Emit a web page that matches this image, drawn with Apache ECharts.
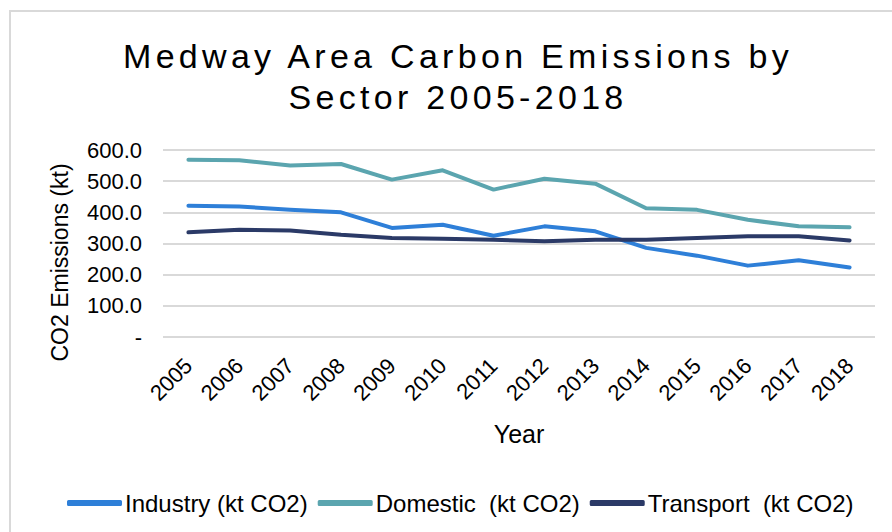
<!DOCTYPE html>
<html>
<head>
<meta charset="utf-8">
<script src="https://cdn.jsdelivr.net/npm/echarts@6/dist/echarts.min.js"></script>
<style>
  html, body { margin: 0; padding: 0; background: #fff; }
  #chart { width: 892px; height: 532px; }
</style>
</head>
<body>
<div id="chart"></div>
<script>
// 数据
const years = ['2005', '2006', '2007', '2008', '2009', '2010', '2011', '2012', '2013', '2014', '2015', '2016', '2017', '2018'];
const industry = [421, 419, 408, 400, 350, 360, 325, 355, 339, 286, 261, 229, 246, 223];
const domestic = [569, 567, 550, 555, 505, 535, 473, 508, 492, 413, 408, 376, 355, 352];
const transport = [336, 344, 342, 328, 318, 315, 312, 307, 312, 312, 318, 323, 323, 310];
const yTicks = [0, 100, 200, 300, 400, 500, 600];
const seriesNames = ['Industry (kt CO2)', 'Domestic  (kt CO2)', 'Transport  (kt CO2)'];

const font = '"Liberation Sans", Arial, sans-serif';
const chart = echarts.init(document.getElementById('chart'), null, { renderer: 'svg' });

function makeLine(name, data, color) {
  return {
    name: name,
    type: 'line',
    data: data,
    symbol: 'none',
    lineStyle: { color: color, width: 4, cap: 'round', join: 'round' },
    itemStyle: { color: color },
  };
}

let option = {
  backgroundColor: '#fff',
  animation: false,
  title: {
    text: 'Medway Area Carbon Emissions by\nSector 2005-2018',
    left: 453,
    textAlign: 'center',
    top: 30,
    textStyle: {
      fontFamily: font,
      fontSize: 34,
      fontWeight: 'normal',
      color: '#000',
      lineHeight: 41,
    },
  },
  graphic: [{
    type: 'rect',
    shape: { x: 10, y: 11, width: 900, height: 540 },
    style: { fill: null, stroke: '#d9d9d9', lineWidth: 2 },
    silent: true,
  }],
  legend: {
    top: 490,
    left: 67,
    padding: 0,
    itemWidth: 55,
    itemHeight: 6,
    itemGap: 10,
    icon: 'roundRect',
    data: seriesNames,
    textStyle: { fontFamily: font, fontSize: 24, lineHeight: 26, color: '#000', padding: [0, 0, 0, -2] },
  },
  grid: { left: 163, right: 17, top: 150, bottom: 195 },
  xAxis: {
    type: 'category',
    data: years,
    boundaryGap: true,
    name: 'Year',
    nameLocation: 'middle',
    nameGap: 84,
    nameTextStyle: { fontFamily: font, fontSize: 25, color: '#000' },
    axisLine: { show: false },
    axisTick: { show: false },
    axisLabel: { rotate: 45, fontFamily: font, fontSize: 22, color: '#000', margin: 25 },
  },
  yAxis: {
    type: 'value',
    min: yTicks[0],
    max: yTicks[yTicks.length - 1],
    interval: 100,
    name: 'CO2 Emissions (kt)',
    nameLocation: 'middle',
    nameGap: 92,
    nameTextStyle: { fontFamily: font, fontSize: 23, color: '#000', padding: [0, 38, 0, 0] },
    axisLine: { show: false },
    axisTick: { show: false },
    axisLabel: {
      fontFamily: font,
      fontSize: 22,
      color: '#000',
      margin: 21,
      formatter: v => (v === 0 ? '-' : v.toFixed(1)),
    },
    splitLine: { lineStyle: { color: '#d9d9d9', width: 2 } },
  },
  series: [
    makeLine(seriesNames[0], industry, '#2e7fd8'),
    makeLine(seriesNames[1], domestic, '#5ba5af'),
    makeLine(seriesNames[2], transport, '#2b3a67'),
  ],
};

chart.setOption(option);

// 标题字间距
function spaceTitle() {
  document.querySelectorAll('#chart text').forEach(t => {
    const s = t.textContent;
    if (s.indexOf('Medway') === 0 || s.indexOf('Sector') === 0) {
      t.style.letterSpacing = '4.3px';
    }
  });
}
spaceTitle();
chart.on('finished', spaceTitle);
</script>
</body>
</html>
